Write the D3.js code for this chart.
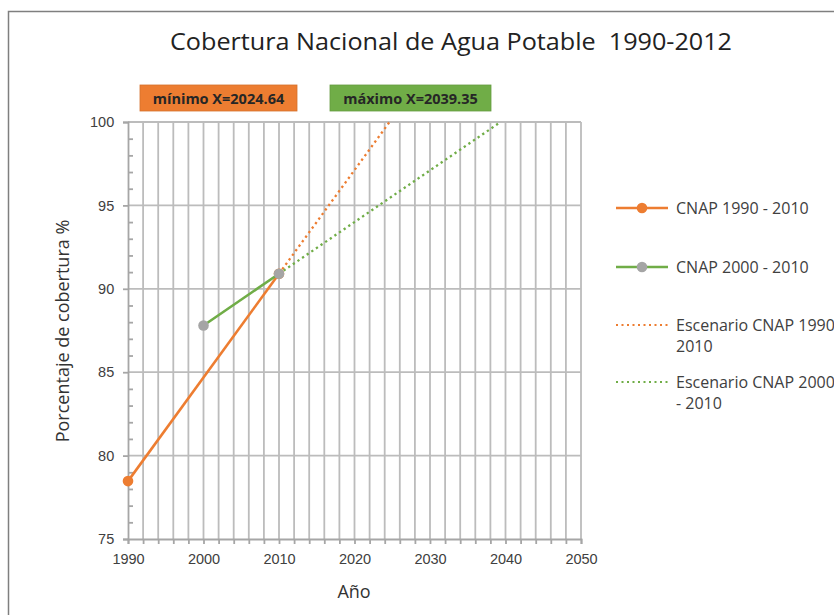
<!DOCTYPE html>
<html>
<head>
<meta charset="utf-8">
<script src="https://cdn.jsdelivr.net/npm/d3@7"></script>
<style>
  body { margin: 0; background: #fff; }
  svg { display: block; font-family: "Open Sans", "Noto Sans", sans-serif; }
</style>
</head>
<body>
<script>
// data
const years1990 = [1990, 2010]
const cnap1990 = [78.47, 90.9]
const years2000 = [2000, 2010]
const cnap2000 = [87.8, 90.9]
const escYears1990 = [2010, 2024.64]
const esc1990 = [90.9, 100]
const escYears2000 = [2010, 2039.35]
const esc2000 = [90.9, 100]
const xTicks = [1990, 2000, 2010, 2020, 2030, 2040, 2050]
const yTicks = [75, 80, 85, 90, 95, 100]
const legendLabels = [
  ['CNAP 1990 - 2010'],
  ['CNAP 2000 - 2010'],
  ['Escenario CNAP 1990 -', '2010'],
  ['Escenario CNAP 2000', '- 2010']
]

const W = 834, H = 615
const orange = '#ED7D31', green = '#70AD47', grey = '#A5A5A5', gridCol = '#BCBCBC'

const svg = d3.select('body').append('svg').attr('width', W).attr('height', H)

// chart frame (goes off the right and bottom edges)
svg.append('rect').attr('x', 8.5).attr('y', 11.5).attr('width', 900).attr('height', 700)
  .attr('fill', '#fff').attr('stroke', '#7f7f7f').attr('stroke-width', 1.5)

svg.append('text').attr('x', 170).attr('y', 50)
  .attr('font-size', 23).attr('fill', '#222')
  .attr('textLength', 562).attr('lengthAdjust', 'spacingAndGlyphs')
  .text('Cobertura Nacional de Agua Potable\u00a0 1990-2012')

const x = d3.scaleLinear().domain([1990, 2050]).range([128, 581])
const y = d3.scaleLinear().domain([75, 100]).range([539, 122])

// grid: vertical every 2 years, horizontal every 5
const g = svg.append('g')
g.selectAll('.vg').data(d3.range(1992, 2051, 2)).join('line')
  .attr('x1', d => x(d)).attr('x2', d => x(d)).attr('y1', y(100)).attr('y2', y(75))
  .attr('stroke', gridCol).attr('stroke-width', 1.8)
g.selectAll('.hg').data(yTicks.slice(1)).join('line')
  .attr('x1', x(1990)).attr('x2', x(2050)).attr('y1', d => y(d)).attr('y2', d => y(d))
  .attr('stroke', gridCol).attr('stroke-width', 1.8)

// axes
const xAxis = svg.append('g').attr('transform', `translate(0,${y(75)})`)
  .call(d3.axisBottom(x).tickValues(d3.range(1990, 2051, 2)).tickSize(5).tickFormat(d => xTicks.includes(d) ? d : ''))
const yAxis = svg.append('g').attr('transform', `translate(${x(1990)},0)`)
  .call(d3.axisLeft(y).tickValues(yTicks).tickSize(5).tickFormat(d => d))
svg.append('g').attr('transform', `translate(${x(1990)},0)`)
  .call(d3.axisRight(y).tickValues(d3.range(76, 100, 1).filter(v => v % 5 !== 0)).tickSize(5).tickFormat(''))
  .call(a => a.select('.domain').remove())
svg.selectAll('.domain, .tick line').attr('stroke', '#A6A6A6').attr('stroke-width', 1.8)
svg.selectAll('.tick text').attr('font-size', 14.5).attr('fill', '#404040')
xAxis.selectAll('.tick text').attr('dy', '1.15em')
yAxis.selectAll('.tick text').attr('dx', '-0.4em')

svg.append('text').attr('x', 354).attr('y', 598).attr('text-anchor', 'middle')
  .attr('font-size', 18).attr('fill', '#333').text('Año')
svg.append('text').attr('transform', 'translate(69,331) rotate(-90)').attr('text-anchor', 'middle')
  .attr('font-size', 18).attr('fill', '#333').text('Porcentaje de cobertura %')

// series
const line = d3.line().x(d => x(d[0])).y(d => y(d[1]))
const plot = svg.append('g')
plot.append('path').datum(d3.zip(escYears1990, esc1990)).attr('d', line)
  .attr('fill', 'none').attr('stroke', orange).attr('stroke-width', 2.3).attr('stroke-dasharray', '2.3 3.3')
plot.append('path').datum(d3.zip(escYears2000, esc2000)).attr('d', line)
  .attr('fill', 'none').attr('stroke', green).attr('stroke-width', 2.3).attr('stroke-dasharray', '2.3 3.3')
plot.append('path').datum(d3.zip(years1990, cnap1990)).attr('d', line)
  .attr('fill', 'none').attr('stroke', orange).attr('stroke-width', 2.6)
plot.selectAll('.m1').data(d3.zip(years1990, cnap1990)).join('circle')
  .attr('cx', d => x(d[0])).attr('cy', d => y(d[1])).attr('r', 5.3).attr('fill', orange)
plot.append('path').datum(d3.zip(years2000, cnap2000)).attr('d', line)
  .attr('fill', 'none').attr('stroke', green).attr('stroke-width', 2.6)
plot.selectAll('.m2').data(d3.zip(years2000, cnap2000)).join('circle')
  .attr('cx', d => x(d[0])).attr('cy', d => y(d[1])).attr('r', 5.3).attr('fill', grey)

// annotation boxes
const boxes = [
  { x: 140, w: 157, fill: orange, text: 'mínimo X=' + escYears1990[1] },
  { x: 330, w: 161, fill: green, text: 'máximo X=' + escYears2000[1] }
]
boxes.forEach(b => {
  svg.append('rect').attr('x', b.x).attr('y', 85).attr('width', b.w).attr('height', 26)
    .attr('fill', b.fill).attr('stroke', d3.color(b.fill).darker(0.3)).attr('stroke-width', 0.8)
  svg.append('text').attr('x', b.x + b.w / 2).attr('y', 103.5).attr('text-anchor', 'middle')
    .attr('font-size', 14.5).attr('font-weight', 'bold').attr('fill', '#262626').text(b.text)
})

// legend
const legY = [208, 267, 325, 382]
const leg = svg.append('g')
legendLabels.forEach((lab, i) => {
  const yy = legY[i]
  const col = i % 2 === 0 ? orange : green
  const ln = leg.append('line').attr('x1', 616).attr('x2', 668).attr('y1', yy).attr('y2', yy)
    .attr('stroke', col)
  if (i < 2) {
    ln.attr('stroke-width', 2.6)
    leg.append('circle').attr('cx', 642).attr('cy', yy).attr('r', 5.3).attr('fill', i === 0 ? orange : grey)
  } else {
    ln.attr('stroke-width', 2).attr('stroke-dasharray', '2 3.5')
  }
  lab.forEach((t, j) => {
    leg.append('text').attr('x', 676).attr('y', yy + 5.5 + j * 21).attr('font-size', 16)
      .attr('fill', '#404040').text(t)
  })
})
</script>
</body>
</html>
